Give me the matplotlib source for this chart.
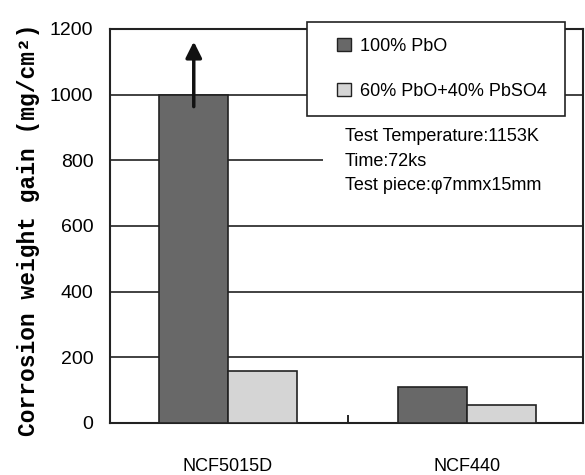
import matplotlib.pyplot as plt
from matplotlib.patches import Patch, Rectangle

alloys = ['NCF5015D', 'NCF440']
pbo = [1000, 110]          # 100% PbO (NCF5015D goes off the scale)
pbo_pbso4 = [158, 55]      # 60% PbO + 40% PbSO4
yticks = [0, 200, 400, 600, 800, 1000, 1200]
labels = ['100% PbO', '60% PbO+40% PbSO4']
notes = 'Test Temperature:1153K\nTime:72ks\nTest piece:\u03c67mmx15mm'

sans = ['Liberation Sans', 'DejaVu Sans']
dark = '#686868'
light = '#d5d5d5'
edge = '#222222'

fig = plt.figure(figsize=(5.85, 4.75), dpi=100)
ax = fig.add_axes([0.188, 0.1095, 0.8086, 0.8295])

w = 0.287
x = list(range(len(alloys)))
ax.bar([i - w / 2 for i in x], pbo, w, color=dark, edgecolor=edge, lw=1.2, zorder=3)
ax.bar([i + w / 2 for i in x], pbo_pbso4, w, color=light, edgecolor=edge, lw=1.2, zorder=3)

for v in yticks[1:-1]:
    ax.axhline(v, color='#333333', lw=1.3, zorder=1)

# arrow: the NCF5015D value runs past the top of the scale
ax.annotate('', xy=(-w / 2, 1170), xytext=(-w / 2, 955),
            arrowprops=dict(arrowstyle='-|>', lw=2.5, color='#111111',
                            mutation_scale=24), zorder=5)

ax.set_xlim(-0.494, 1.485)
ax.set_ylim(0, 1200)
ax.set_yticks(yticks)
ax.set_yticklabels([str(v) for v in yticks], family=sans, fontsize=14)
ax.set_xticks(x)
ax.set_xticklabels(alloys, family=sans, fontsize=13)
ax.set_xticks([0.5], minor=True)
ax.tick_params(axis='y', length=0, pad=12)
ax.tick_params(axis='x', which='major', length=0, pad=25)
ax.tick_params(axis='x', which='minor', direction='in', length=6, width=1.2)
for s in ax.spines.values():
    s.set_linewidth(1.5)
    s.set_color('#222222')

ax.set_ylabel('Corrosion weight gain (mg/cm\u00b2)', family=['Liberation Mono', 'DejaVu Sans Mono'],
              fontsize=16.5, fontweight='bold')
ax.yaxis.set_label_coords(-0.148, 0.49)

# legend frame drawn separately so it can stick out above the axes
ax.add_patch(Rectangle((0.4165, 0.779), 0.5455, 0.239, transform=ax.transAxes,
                       facecolor='white', edgecolor='#222222', lw=1.2,
                       clip_on=False, zorder=6))
handles = [Patch(facecolor=dark, edgecolor=edge), Patch(facecolor=light, edgecolor=edge)]
leg = ax.legend(handles, labels, loc='center left', bbox_to_anchor=(0.4799, 0.8985),
                prop={'family': sans, 'size': 13}, frameon=False,
                handlelength=0.75, handleheight=0.75, handletextpad=0.5,
                labelspacing=1.55, borderpad=0, borderaxespad=0)
leg.set_zorder(7)

# white backing behind the test conditions, hides the 800 grid line
ax.add_patch(Rectangle((0.450, 0.553), 0.547, 0.216, transform=ax.transAxes,
                       facecolor='white', edgecolor='none', zorder=2))
ax.text(0.497, 0.749, notes, transform=ax.transAxes, va='top', ha='left',
        family=sans, fontsize=13, linespacing=1.6, zorder=6)

fig.savefig('out.png', dpi=100)
